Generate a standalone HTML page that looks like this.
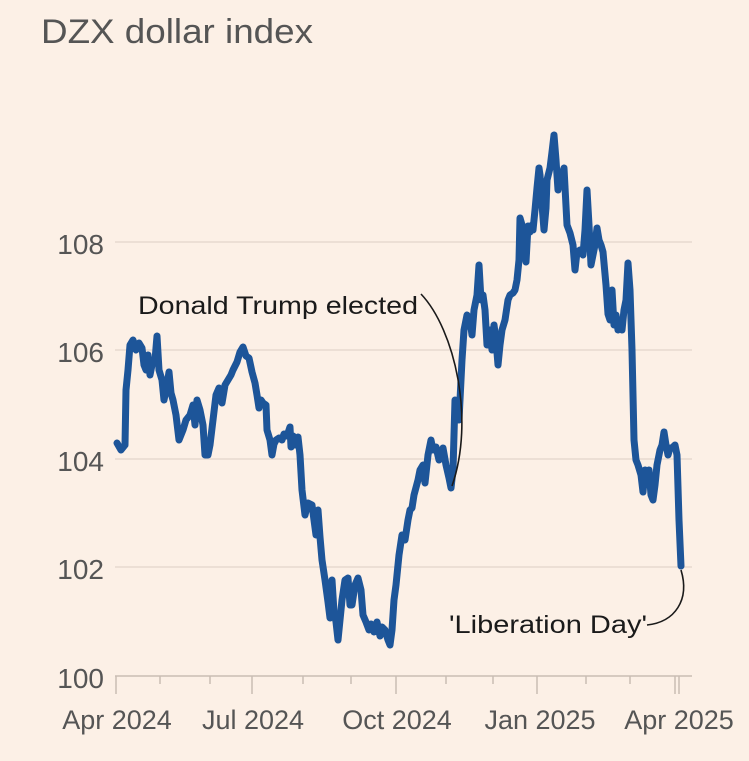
<!DOCTYPE html>
<html><head><meta charset="utf-8"><style>
html,body{margin:0;padding:0;background:#fcf0e6;}
svg{display:block;}
text{font-family:"Liberation Sans",sans-serif;}
</style></head><body>
<svg width="749" height="761" viewBox="0 0 749 761" xmlns="http://www.w3.org/2000/svg">
<rect width="749" height="761" fill="#fcf0e6"/>
<text x="41" y="43" font-size="34" fill="#555" textLength="272" lengthAdjust="spacingAndGlyphs">DZX dollar index</text>
<g stroke="#e6d9cf" stroke-width="1.5">
<line x1="115" y1="242" x2="692" y2="242"/>
<line x1="115" y1="350" x2="692" y2="350"/>
<line x1="115" y1="459" x2="692" y2="459"/>
<line x1="115" y1="567" x2="692" y2="567"/>
</g>
<g font-size="28" fill="#555" text-anchor="end">
<text x="104" y="254">108</text>
<text x="104" y="362">106</text>
<text x="104" y="471">104</text>
<text x="104" y="579">102</text>
<text x="104" y="688">100</text>
</g>
<g stroke="#c9bdb4" stroke-width="1.5">
<line x1="115" y1="676" x2="692" y2="676"/>
<line x1="116" y1="676" x2="116" y2="694"/>
<line x1="252" y1="676" x2="252" y2="694"/>
<line x1="396" y1="676" x2="396" y2="694"/>
<line x1="537" y1="676" x2="537" y2="694"/>
<line x1="675" y1="676" x2="675" y2="694"/>
<line x1="679" y1="676" x2="679" y2="694"/>
<line x1="160" y1="676" x2="160" y2="684"/>
<line x1="210" y1="676" x2="210" y2="684"/>
<line x1="303" y1="676" x2="303" y2="684"/>
<line x1="351" y1="676" x2="351" y2="684"/>
<line x1="446" y1="676" x2="446" y2="684"/>
<line x1="493" y1="676" x2="493" y2="684"/>
<line x1="586" y1="676" x2="586" y2="684"/>
<line x1="630" y1="676" x2="630" y2="684"/>
</g>
<g font-size="27" fill="#555" text-anchor="middle">
<text x="117" y="729">Apr 2024</text>
<text x="253" y="729">Jul 2024</text>
<text x="397" y="729">Oct 2024</text>
<text x="540" y="729">Jan 2025</text>
<text x="679" y="729">Apr 2025</text>
</g>
<polyline fill="none" stroke="#1d5599" stroke-width="7" stroke-linejoin="round" stroke-linecap="round" points="117,443 121,450 125,445 126,390 128,370 130,345 133,340 136,350 139,343 142,348 144,365 146,370 148,355 150,375 152,365 155,360 157,336 159,370 162,380 164,400 167,385 169,372 171,393 173,400 176,415 179,440 183,430 186,420 190,415 193,405 195,425 197,400 200,410 203,425 205,455 208,455 210,445 213,420 216,395 219,388 222,403 225,385 228,380 231,375 233,370 237,362 240,352 243,347 246,356 249,358 252,372 255,383 257,395 259,408 261,400 263,403 266,405 267,430 270,440 272,455 274,444 276,440 279,438 282,440 284,434 287,436 290,427 291,447 293,436 295,445 298,437 300,455 302,490 305,515 308,503 312,505 314,520 316,535 318,510 320,537 322,560 325,580 328,602 330,618 332,580 334,612 336,622 338,640 340,620 342,600 345,580 348,578 350,605 352,605 355,585 358,578 361,590 363,615 366,622 369,630 371,624 374,632 377,622 380,636 382,627 385,630 388,640 390,645 392,630 394,600 396,585 399,555 402,535 405,540 408,520 410,510 412,508 414,495 418,480 420,470 423,465 425,483 428,455 431,440 433,450 436,447 439,460 441,453 443,448 446,465 449,478 451,488 453,470 455,400 457,410 459,420 462,360 464,330 467,315 470,320 472,335 474,310 477,295 479,265 481,300 483,295 485,310 487,345 490,330 492,350 494,325 496,340 498,365 500,345 502,330 505,320 508,300 510,295 513,293 515,290 517,280 519,260 520,218 522,225 524,240 526,262 528,226 530,232 532,225 533,230 535,210 537,188 539,168 540,175 542,205 544,230 546,208 547,180 550,168 552,152 554,135 556,160 558,190 560,178 562,175 564,168 567,225 570,233 573,245 575,270 577,252 580,250 583,255 585,230 587,190 589,225 591,265 593,255 595,245 597,228 599,240 601,245 603,252 606,285 608,314 610,320 612,290 614,325 616,315 618,330 620,320 622,330 624,310 626,300 628,263 630,290 632,350 634,440 636,460 638,465 641,475 643,492 645,470 647,480 649,470 651,495 653,500 655,485 657,465 660,450 662,445 664,432 666,445 668,455 670,448 672,448 675,445 677,455 679,520 681,566"/>
<text x="138" y="314" font-size="25" fill="#1a1a1a" textLength="280" lengthAdjust="spacingAndGlyphs">Donald Trump elected</text>
<path d="M421,294 C455,330 475,420 452,486" fill="none" stroke="#1a1a1a" stroke-width="1.6"/>
<text x="449" y="633" font-size="25" fill="#1a1a1a" textLength="198" lengthAdjust="spacingAndGlyphs">'Liberation Day'</text>
<path d="M681,570 C690,600 675,622 647,625" fill="none" stroke="#1a1a1a" stroke-width="1.6"/>
</svg>
</body></html>
